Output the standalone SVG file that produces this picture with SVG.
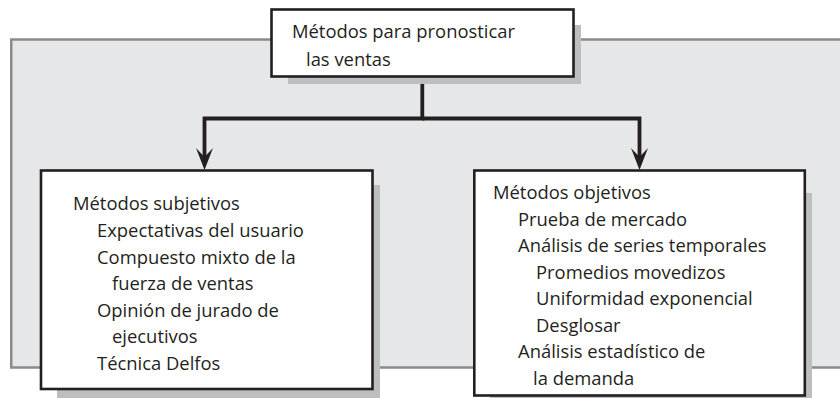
<svg xmlns="http://www.w3.org/2000/svg" width="840" height="398" viewBox="0 0 840 398">
<defs>
<style>
.frame{fill:#e6e7e8;stroke:#8a8b8d;stroke-width:2.5}
.shadow{fill:#bcbec0}
.box{fill:#ffffff;stroke:#231f20;stroke-width:2.6}
.t{font-family:"Open Sans","Noto Sans","Liberation Sans",sans-serif;font-size:18.4px;fill:#231f20}
.conn{fill:none;stroke:#231f20;stroke-width:3.8}
</style>
<marker id="arrow" markerUnits="userSpaceOnUse" viewBox="0 0 22 17" markerWidth="22" markerHeight="17" refX="12" refY="8.5" orient="auto">
<path d="M0,0 L22,8.5 L0,17 L9,8.5 Z" fill="#231f20"/>
</marker>
</defs>
<rect id="frame" class="frame" x="11.25" y="39.5" width="850" height="328"/>
<g id="connectors">
<path class="conn" d="M422.3,77 V118.5 H204.5 V160" marker-end="url(#arrow)"/>
<path class="conn" d="M422.3,118.5 H639.5 V160" marker-end="url(#arrow)"/>
</g>
<g id="node-top">
<rect class="shadow" x="288" y="25" width="293" height="59"/>
<rect class="box" x="271.5" y="9.5" width="302" height="67"/>
<text class="t" x="292" y="37.5">Métodos para pronosticar</text>
<text class="t" x="306" y="65.5">las ventas</text>
</g>
<g id="node-left">
<rect class="shadow" x="57" y="185" width="323" height="213"/>
<rect class="box" x="41" y="170.5" width="331.5" height="218.5"/>
<text class="t" x="73" y="210">Métodos subjetivos</text>
<text class="t" x="97" y="237">Expectativas del usuario</text>
<text class="t" x="97" y="263.5">Compuesto mixto de la</text>
<text class="t" x="112" y="290">fuerza de ventas</text>
<text class="t" x="97" y="316.5">Opinión de jurado de</text>
<text class="t" x="112" y="343">ejecutivos</text>
<text class="t" x="97" y="369.5">Técnica Delfos</text>
</g>
<g id="node-right">
<rect class="shadow" x="490" y="193" width="322" height="210"/>
<rect class="box" x="474.3" y="170.5" width="330.5" height="225"/>
<text class="t" x="493" y="199">Métodos objetivos</text>
<text class="t" x="518" y="225.5">Prueba de mercado</text>
<text class="t" x="518" y="252">Análisis de series temporales</text>
<text class="t" x="536" y="278.5">Promedios movedizos</text>
<text class="t" x="536" y="305">Uniformidad exponencial</text>
<text class="t" x="536" y="331.5">Desglosar</text>
<text class="t" x="518" y="358">Análisis estadístico de</text>
<text class="t" x="533" y="384.5">la demanda</text>
</g>
</svg>
